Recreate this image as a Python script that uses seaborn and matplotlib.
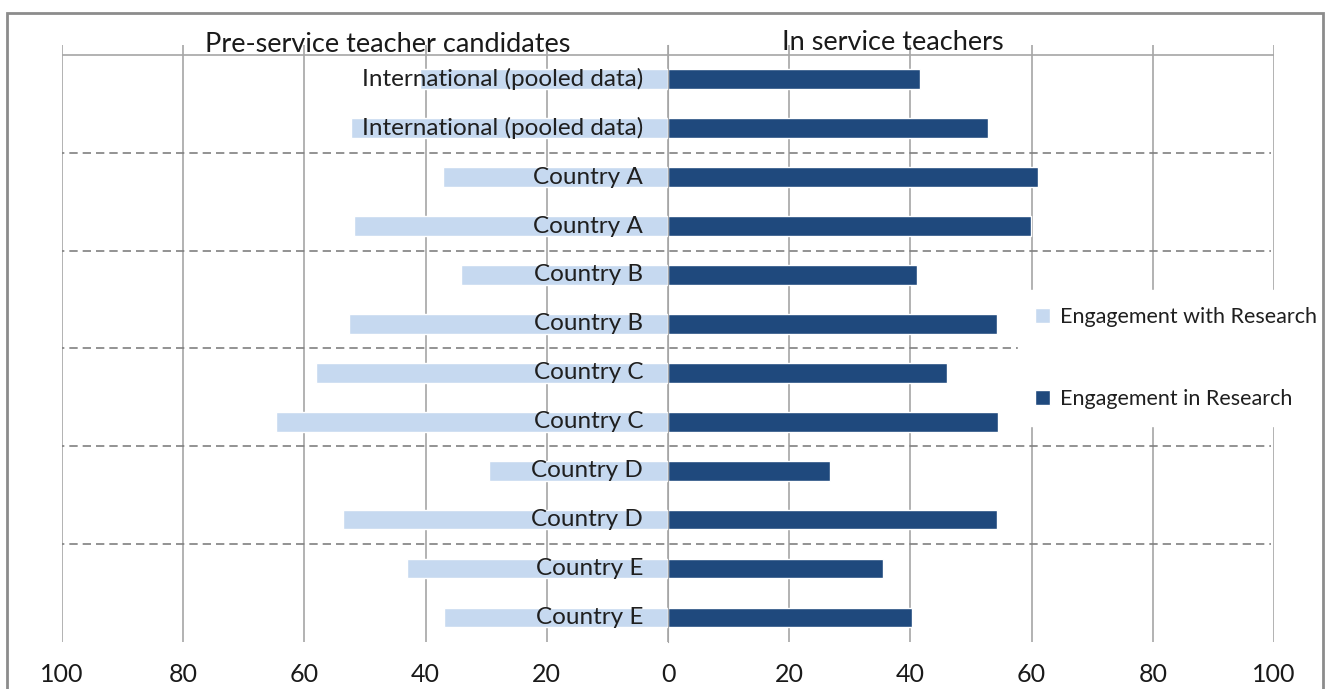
import pandas as pd
import numpy as np
import matplotlib.pyplot as plt
import seaborn as sns
from matplotlib.patches import Patch, Rectangle

# Dados (de cima para baixo)
rotulos = ['International (pooled data)', 'International (pooled data)',
           'Country A', 'Country A', 'Country B', 'Country B',
           'Country C', 'Country C', 'Country D', 'Country D',
           'Country E', 'Country E']
pre_service = [40.9, 52.3, 37.1, 51.8, 34.2, 52.6, 58.1, 64.7, 29.5, 53.6, 43.1, 37.0]
in_service = [41.6, 52.8, 61.0, 59.9, 41.1, 54.3, 46.0, 54.5, 26.7, 54.3, 35.5, 40.3]
ticks_x = [-100, -80, -60, -40, -20, 0, 20, 40, 60, 80, 100]
separadores = [1.5, 3.5, 5.5, 7.5, 9.5]

cor_clara = '#C6D9F0'
cor_escura = '#1F497D'
cor_grade = '#A6A6A6'

sns.set_style('white')
plt.rcParams['font.family'] = ['Lato', 'DejaVu Sans']

df = pd.DataFrame({'linha': np.arange(len(rotulos)),
                   'pre': -np.array(pre_service),
                   'inservice': in_service})

fig = plt.figure(figsize=(13.25, 6.89), dpi=100)
ax = fig.add_axes([62 / 1325, 47 / 689, (1274 - 62) / 1325, (642 - 45) / 689])

sns.barplot(data=df, x='pre', y='linha', orient='h', native_scale=True,
            color=cor_clara, width=0.4, saturation=1, ax=ax, zorder=2)
sns.barplot(data=df, x='inservice', y='linha', orient='h', native_scale=True,
            color=cor_escura, width=0.4, saturation=1, ax=ax, zorder=2)

ax.set_xlim(-100, 100)
ax.set_ylim(11.5, -0.7)

# grade vertical
for xv in ticks_x:
    ax.axvline(xv, color=cor_grade, lw=1.2, zorder=1)
ax.hlines(-0.5, -100, 100, color=cor_grade, lw=1.2, zorder=1)

# linhas tracejadas entre os países
for yv in separadores:
    fim = 58 if yv == 5.5 else 99.5
    ax.hlines(yv, -101, fim, color='#808080', lw=1.2, linestyles=(0, (5, 3)), zorder=1)

# eixo y no zero
ax.spines['left'].set_position(('data', 0))
ax.spines['left'].set_color(cor_grade)
for s in ['top', 'right', 'bottom']:
    ax.spines[s].set_visible(False)
ax.set_yticks([])
ax.set_yticks(np.arange(-0.5, 12, 1), minor=True)
ax.tick_params(axis='y', which='minor', length=5, color=cor_grade, direction='out')

ax.set_xticks(ticks_x)
ax.set_xticklabels([str(abs(v)) for v in ticks_x], fontsize=18, color='#1a1a1a')
ax.tick_params(axis='x', length=0, pad=15)
ax.set_xlabel('')
ax.set_ylabel('')

for i, txt in enumerate(rotulos):
    ax.text(-4.1, i, txt, ha='right', va='center', fontsize=17.5, color='#1f1f1f', zorder=3)

fig.text(388 / 1325, 1 - 44 / 689, 'Pre-service teacher candidates', ha='center', va='center',
         fontsize=19.5, color='#1a1a1a')
fig.text(893 / 1325, 1 - 42 / 689, 'In service teachers', ha='center', va='center',
         fontsize=19.5, color='#1a1a1a')

handles = [Patch(facecolor=cor_clara, label='Engagement with Research'),
           Patch(facecolor=cor_escura, label='Engagement in Research')]
leg = fig.legend(handles=handles, loc='upper left', bbox_to_anchor=(1018 / 1325, 1 - 290 / 689),
                 frameon=True, fontsize=15.5, labelspacing=2.85, handlelength=0.7, handleheight=0.7,
                 handletextpad=0.45, borderpad=0.8, borderaxespad=0)
leg.get_frame().set_facecolor('white')
leg.get_frame().set_edgecolor('white')
leg.get_frame().set_alpha(1)
for t in leg.get_texts():
    t.set_color('#1f1f1f')

# moldura do gráfico
fig.patches.append(Rectangle((7 / 1325, -0.05), (1323 - 7) / 1325, 1.05 - 13 / 689,
                             transform=fig.transFigure, fill=False, edgecolor='#8C8C8C',
                             lw=2, zorder=10))

plt.savefig('out.png', dpi=100)
